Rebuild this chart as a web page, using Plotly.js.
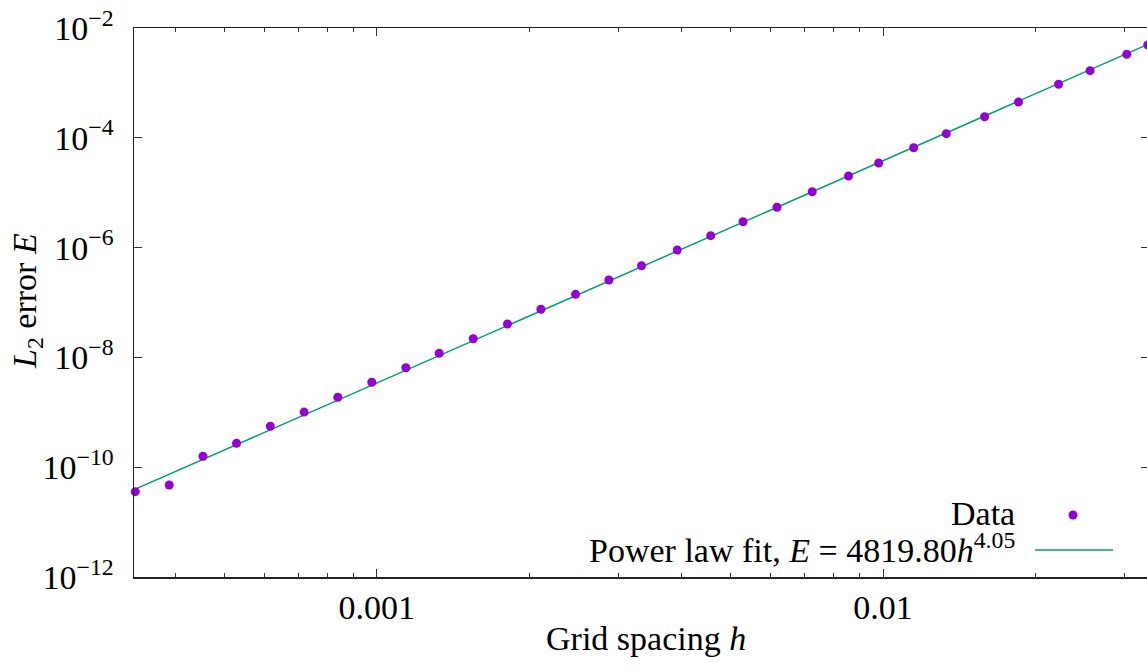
<!DOCTYPE html>
<html>
<head>
<meta charset="utf-8">
<script src="https://cdn.plot.ly/plotly-3.0.1.min.js"></script>
<style>
  html, body { margin: 0; padding: 0; overflow: hidden; background: #fff; }
  #chart { width: 1152px; height: 669px; }
</style>
</head>
<body>
<div id="chart"></div>
<script>
// Grid spacing h
const gridSpacing = [
  3.3333e-4, 3.8895e-4, 4.5351e-4, 5.2826e-4, 6.1614e-4, 7.1839e-4, 8.3752e-4, 9.7752e-4,
  1.14155e-3, 1.32802e-3, 1.55039e-3, 1.81159e-3, 2.10970e-3, 2.46914e-3, 2.87356e-3,
  3.33333e-3, 3.92157e-3, 4.56621e-3, 5.29101e-3, 6.17284e-3, 7.24638e-3, 8.54701e-3,
  9.80392e-3, 1.14943e-2, 1.33333e-2, 1.58730e-2, 1.85185e-2, 2.22222e-2, 2.56410e-2,
  3.03030e-2, 3.33333e-2
];
// L2 error E
const l2Error = [
  3.58e-11, 4.74e-11, 1.58e-10, 2.72e-10, 5.56e-10, 1.01e-9, 1.88e-9, 3.52e-9,
  6.49e-9, 1.19e-8, 2.19e-8, 4.06e-8, 7.52e-8, 1.41e-7, 2.57e-7,
  4.68e-7, 9.04e-7, 1.65e-6, 2.96e-6, 5.42e-6, 1.04e-5, 2.01e-5,
  3.48e-5, 6.60e-5, 1.19e-4, 2.42e-4, 4.49e-4, 9.43e-4, 1.67e-3,
  3.32e-3, 4.90e-3
];
// Power-law fit parameters from the legend
const fitA = 4819.80;
const fitP = 4.05;

// Tick labels
const xTickVals = [0.001, 0.01];
const xTickText = ['0.001', '0.01'];
const xMinorVals = [4e-4, 5e-4, 6e-4, 7e-4, 8e-4, 9e-4, 2e-3, 3e-3, 4e-3, 5e-3, 6e-3, 7e-3, 8e-3, 9e-3, 2e-2, 3e-2];
const yTickVals = [1e-12, 1e-10, 1e-8, 1e-6, 1e-4, 1e-2];
const yTickText = ['10<sup>−12</sup>', '10<sup>−10</sup>', '10<sup>−8</sup>', '10<sup>−6</sup>', '10<sup>−4</sup>', '10<sup>−2</sup>'];

const hMin = Math.min(...gridSpacing);
const hMax = Math.max(...gridSpacing);
const fitH = [hMin, hMax];
const fitE = fitH.map(h => fitA * Math.pow(h, fitP));

const FONT = 'Liberation Serif, Times New Roman, serif';
const FS = 34;
const dataColor = '#9400d3';
const fitColor = '#009e73';

const traces = [
  {
    x: fitH, y: fitE, type: 'scatter', mode: 'lines',
    line: { color: fitColor, width: 1.5 },
    name: 'Power law fit', showlegend: false, hoverinfo: 'skip'
  },
  {
    x: gridSpacing, y: l2Error, type: 'scatter', mode: 'markers',
    marker: { color: dataColor, size: 9 },
    cliponaxis: false,
    name: 'Data', showlegend: false
  }
];

const ML = 134, MR = 3, MT = 28, MB = 92, W = 1152, H = 669;
const plotW = W - ML - MR;
const plotH = H - MT - MB;
const px = v => (v - ML) / plotW;        // page x -> paper x
const py = v => (H - MB - v) / plotH;    // page y -> paper y
const pad = 0.0025; // tiny padding so the edge point is not culled

const layout = {
  width: W, height: H,
  margin: { l: ML, r: MR, t: MT, b: MB },
  paper_bgcolor: '#fff', plot_bgcolor: '#fff',
  showlegend: false,
  font: { family: FONT, size: FS, color: '#000' },
  xaxis: {
    type: 'log',
    range: [Math.log10(hMin) - pad, Math.log10(hMax) + pad],
    tickmode: 'array', tickvals: xTickVals, ticktext: xTickText,
    ticks: 'inside', ticklen: 8, tickwidth: 1, tickcolor: '#333',
    showline: true, linecolor: '#222', linewidth: 1.5, mirror: 'ticks',
    showgrid: false, zeroline: false,
    ticklabelstandoff: 0,
    tickfont: { family: FONT, size: FS, color: '#000' },
    minor: { tickmode: 'array', tickvals: xMinorVals, ticks: 'inside', ticklen: 4, tickwidth: 1, tickcolor: '#333', showgrid: false }
  },
  yaxis: {
    type: 'log',
    range: [-12, -2],
    tickmode: 'array', tickvals: yTickVals, ticktext: yTickText,
    ticks: 'inside', ticklen: 8, tickwidth: 1, tickcolor: '#333',
    showline: true, linecolor: '#222', linewidth: 1.5, mirror: 'ticks',
    showgrid: false, zeroline: false,
    ticklabelstandoff: 12,
    tickfont: { family: FONT, size: FS, color: '#000' }
  },
  annotations: [
    { text: 'Grid spacing <i>h</i>', xref: 'paper', yref: 'paper',
      x: px(646), y: py(638), xanchor: 'center', yanchor: 'middle', showarrow: false,
      font: { family: FONT, size: FS, color: '#000' } },
    { text: '<i>L</i><sub>2</sub> error <i>E</i>', xref: 'paper', yref: 'paper',
      x: px(27), y: py(301), xanchor: 'center', yanchor: 'middle', textangle: -90, showarrow: false,
      font: { family: FONT, size: FS, color: '#000' } },
    { text: 'Data', xref: 'paper', yref: 'paper',
      x: px(1017), y: py(513), xanchor: 'right', yanchor: 'middle', showarrow: false,
      font: { family: FONT, size: FS, color: '#000' } },
    { text: 'Power law fit, <i>E</i> = 4819.80<i>h</i><sup>4.05</sup>', xref: 'paper', yref: 'paper',
      x: px(1017), y: py(548), xanchor: 'right', yanchor: 'middle', showarrow: false,
      font: { family: FONT, size: FS, color: '#000' } }
  ],
  shapes: [
    { type: 'circle', xref: 'paper', yref: 'paper', xsizemode: 'pixel', ysizemode: 'pixel',
      xanchor: px(1073), yanchor: py(515), x0: -4.5, x1: 4.5, y0: -4.5, y1: 4.5,
      fillcolor: dataColor, line: { width: 0 } },
    { type: 'line', xref: 'paper', yref: 'paper',
      x0: px(1035), x1: px(1113), y0: py(550), y1: py(550),
      line: { color: fitColor, width: 1.5 } }
  ]
};

Plotly.newPlot('chart', traces, layout, { displayModeBar: false, staticPlot: true });
</script>
</body>
</html>
